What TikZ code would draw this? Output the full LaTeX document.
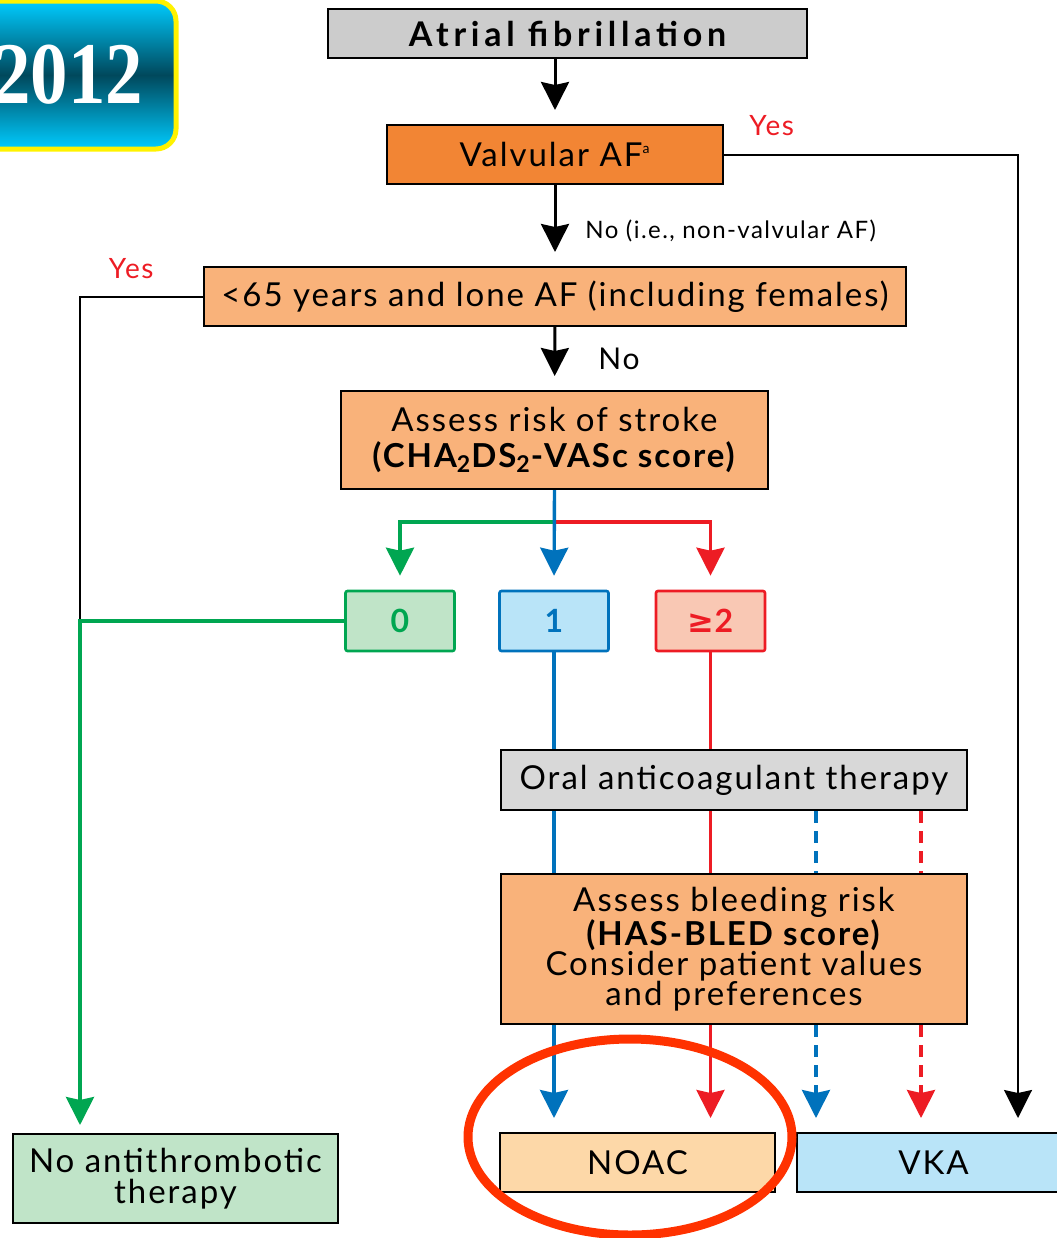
\documentclass[tikz,border=0pt]{standalone}
\usepackage{fontspec}
\setmainfont{Lato}[LetterSpace=6]
\newfontfamily\afont[LetterSpace=14]{Lato}
\newfontfamily\yearfont[FakeStretch=0.85]{Liberation Serif}
\newfontfamily\symfont{DejaVu Sans}
\usetikzlibrary{arrows.meta}

\definecolor{afgray}{RGB}{204,204,204}
\definecolor{valvorange}{RGB}{242,133,52}
\definecolor{paleorange}{RGB}{249,178,122}
\definecolor{greenfill}{RGB}{192,228,200}
\definecolor{greenline}{RGB}{0,166,81}
\definecolor{bluefill}{RGB}{185,228,248}
\definecolor{blueline}{RGB}{0,114,188}
\definecolor{redfill}{RGB}{249,200,180}
\definecolor{redline}{RGB}{237,28,36}
\definecolor{oacgray}{RGB}{216,216,216}
\definecolor{noacfill}{RGB}{253,216,168}
\definecolor{ringred}{RGB}{255,50,0}
\definecolor{badgecyan}{RGB}{0,204,255}
\definecolor{badgedark}{RGB}{0,72,92}

\begin{document}
\begin{tikzpicture}[x=0.5pt,y=-0.5pt,
  box/.style={rectangle,draw,line width=1pt,inner sep=2pt,align=center,
    font=\fontsize{16.5}{16}\selectfont},
  score/.style={rectangle,draw=#1line,fill=#1fill,text=#1line,line width=1.3pt,
    rounded corners=1pt,minimum width=54.5pt,minimum height=30pt,
    font=\fontsize{16}{16}\selectfont\bfseries},
  lbl/.style={inner sep=0pt,font=\fontsize{14}{14}\selectfont},
  tip/.style={-{Stealth[length=14pt,width=14pt,inset=1.5pt]}},
  arr/.style={tip,line width=1.5pt,shorten >=7pt},
  yesline/.style={line width=1pt},
  cline/.style={line width=1.7pt,draw=#1line},
  carr/.style={cline=#1,tip,shorten >=7pt},
  dashline/.style={dash pattern=on 6pt off 4pt}]

\useasboundingbox (0,0) rectangle (1056,1238);

% year badge
\node[rectangle,draw=yellow,line width=2.5pt,rounded corners=10pt,
  top color=badgecyan,bottom color=badgecyan,middle color=badgedark,
  minimum width=108pt,minimum height=74pt,text=white,
  font=\yearfont\bfseries\fontsize{44}{44}\selectfont] (year) at (68,75) {2012};

% boxes
\node[box,fill=afgray,minimum width=239.5pt,minimum height=24.5pt,
  font=\afont\fontsize{17}{17}\selectfont\bfseries] (af) at (567.5,33.5) {Atrial fibrillation};
\node[box,fill=valvorange,minimum width=168pt,minimum height=29.5pt] (valv) at (555,154.5)
  {Valvular AF\textsuperscript{\scriptsize a}};
\node[box,fill=paleorange,minimum width=351pt,minimum height=29.5pt] (lone) at (555,296.5)
  {<65 years and lone AF (including females)};
\node[box,fill=paleorange,minimum width=213.5pt,minimum height=49pt,
  font=\fontsize{16.5}{18}\selectfont] (stroke) at (554.5,440)
  {Assess risk of stroke\\\textbf{(CHA\textsubscript{2}DS\textsubscript{2}-VASc score)}};
\node[score=green] (s0) at (400,621) {0};
\node[score=blue] (s1) at (554,621) {1};
\node[score=red] (s2) at (710.5,621) {{\symfont\bfseries ≥}2};
\node[box,fill=oacgray,minimum width=233pt,minimum height=30pt] (oac) at (734,780)
  {Oral anticoagulant therapy};
\node[box,fill=paleorange,minimum width=233pt,minimum height=75pt,
  font=\fontsize{16.5}{15}\selectfont] (bleed) at (734,949)
  {Assess bleeding risk\\\textbf{(HAS-BLED score)}\\Consider patient values\\and preferences};
\node[box,fill=noacfill,minimum width=137.5pt,minimum height=29.5pt] (noac) at (637.5,1162.5) {NOAC};
\node[box,fill=bluefill,minimum width=136.5pt,minimum height=29.5pt] (vka) at (933.5,1162.5) {VKA};
\node[box,fill=greenfill,minimum width=162.5pt,minimum height=44.5pt,
  font=\fontsize{16.5}{15.5}\selectfont] (none) at (175.5,1178.5) {No antithrombotic\\therapy};

% labels
\node[lbl,anchor=west,text=redline] (yesvalv) at ([xshift=12.5pt,yshift=-1pt]valv.north east) {Yes};
\node[lbl,anchor=east,text=redline] (yeslone) at ([xshift=-24.5pt,yshift=-1.5pt]lone.north west) {Yes};
\node[lbl,anchor=west,font=\fontsize{12}{12}\selectfont] (novalv) at ([xshift=15pt,yshift=-23pt]valv.south) {No (i.e., non-valvular AF)};
\node[lbl,anchor=west,font=\fontsize{15}{15}\selectfont] (nolone) at ([xshift=21.5pt,yshift=-16pt]lone.south) {No};

% main line
\draw[arr] (af.south -| valv) -- (valv);
\draw[arr] (valv) -- (lone);
\draw[arr] (lone) -- (stroke);
\draw[yesline,tip,shorten >=7pt] (valv.east) -| ([xshift=42.25pt]vka.north);

% scores
\coordinate (split) at ([yshift=-16pt]stroke.south);
\draw[carr=green] (split) -| (s0.north);
\draw[carr=red] (split) -| (s2.north);
\draw[carr=blue] (stroke.south) -- (s1.north);

% score 0
\coordinate (bend) at (80,621);
\draw[yesline] (lone.west) -| (bend);
\draw[carr=green,shorten >=4pt] (s0.west) -- (bend) -- (bend |- none.north);

% score 1 and 2
\draw[cline=blue] (s1.south) -- (s1.south |- oac.north);
\draw[cline=red] (s2.south) -- (s2.south |- oac.north);
\draw[cline=blue] (s1 |- oac.south) -- (s1 |- bleed.north);
\draw[cline=red] (s2 |- oac.south) -- (s2 |- bleed.north);
\draw[carr=blue] (s1 |- bleed.south) -- (s1 |- noac.north);
\draw[carr=red] (s2 |- bleed.south) -- (s2 |- noac.north);
\draw[cline=blue,dashline] ([xshift=41pt]oac.south) -- ([xshift=41pt]bleed.north);
\draw[cline=red,dashline] ([xshift=93.5pt]oac.south) -- ([xshift=93.5pt]bleed.north);
\draw[carr=blue,dashline] ([xshift=41pt]bleed.south) -- ([xshift=41pt]bleed.south |- vka.north);
\draw[carr=red,dashline] ([xshift=93.5pt]bleed.south) -- ([xshift=93.5pt]bleed.south |- vka.north);

% highlight
\draw[ringred,line width=4.5pt] (630,1137) ellipse [x radius=162,y radius=98];
\end{tikzpicture}
\end{document}
